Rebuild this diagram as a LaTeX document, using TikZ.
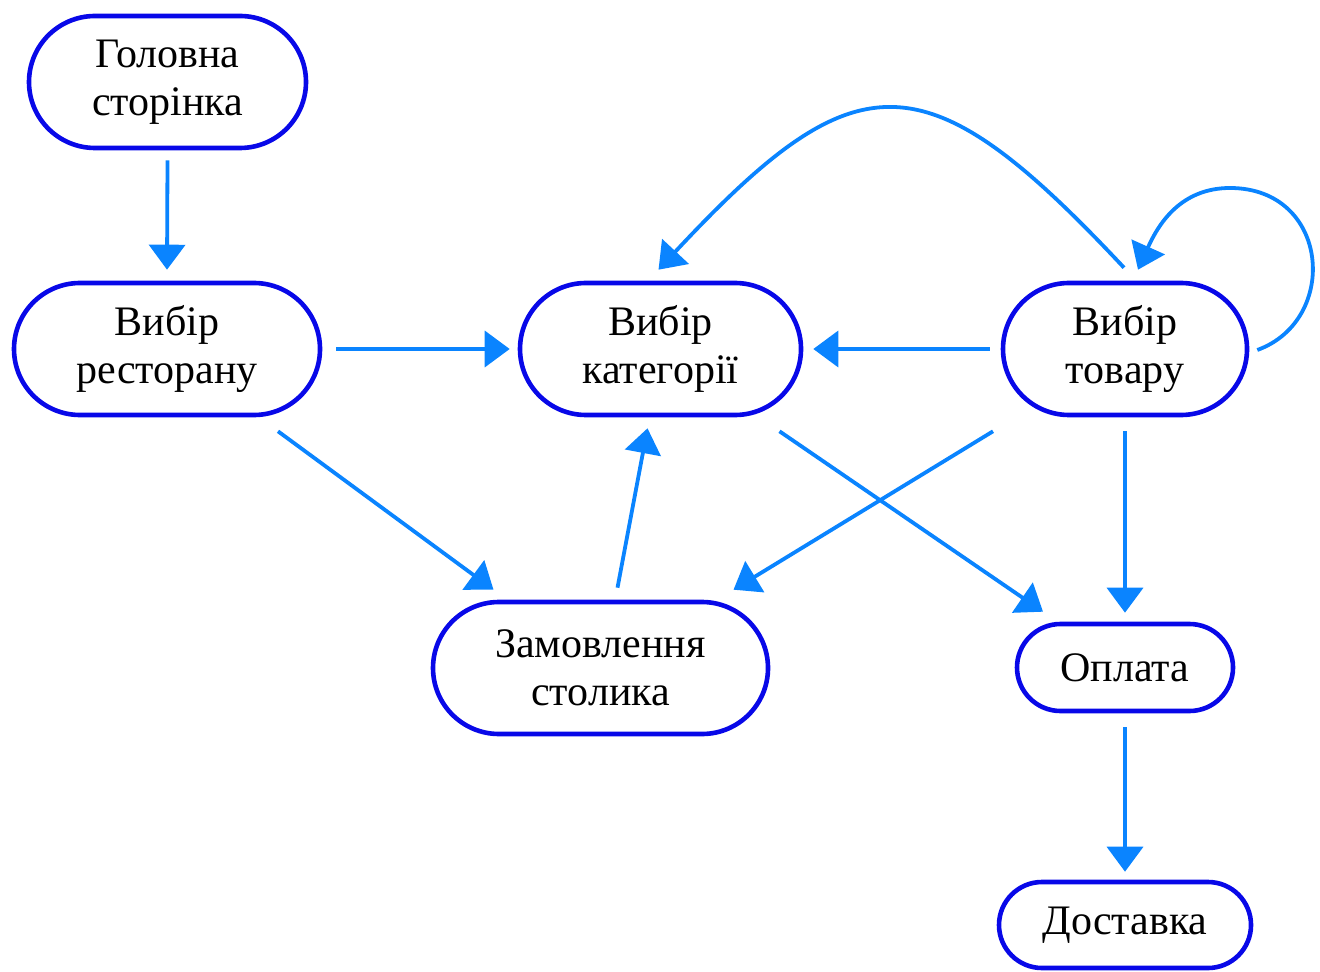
\documentclass[tikz,border=0pt]{standalone}
\usepackage{fontspec}
\setmainfont{Liberation Serif}
\usetikzlibrary{arrows.meta,calc}
\definecolor{nodeblue}{RGB}{8,8,232}
\definecolor{arrowblue}{RGB}{10,132,255}
\tikzset{
  stadium/.style={draw=nodeblue, line width=2.3pt, rounded corners=33pt,
    minimum height=66pt, align=center, inner sep=0pt,
    font=\fontsize{21}{24}\selectfont},
  flow/.style={draw=arrowblue, line width=1.9pt,
    -{Triangle[length=12.5pt,width=18pt]}}
}
\begin{document}
\begin{tikzpicture}[x=0.5pt,y=-0.5pt]
\useasboundingbox (0,0) rectangle (1320,972);
\node[stadium, minimum width=138.5pt] (home) at (167.5,82) {Головна\\сторінка};
\node[stadium, minimum width=153pt] (rest) at (167,349) {Вибір\\ресторану};
\node[stadium, minimum width=140.5pt] (cat) at (660.5,349) {Вибір\\категорії};
\node[stadium, minimum width=122pt] (tov) at (1125,349) {Вибір\\товару};
\node[stadium, minimum width=167.5pt] (zam) at (600.5,668) {Замовлення\\столика};
\node[stadium, minimum width=108pt, minimum height=43.5pt, rounded corners=21.75pt] (opl) at (1125,667.5) {Оплата};
\node[stadium, minimum width=126pt, minimum height=43pt, rounded corners=21.5pt] (dos) at (1125,925) {Доставка};

\draw[flow] ($(home.south)+(0,10)$) -- ($(rest.north)+(0,-11)$);
\draw[flow] ($(rest.east)+(14,0)$) -- ($(cat.west)+(-8,0)$);
\draw[flow] ($(tov.west)+(-11,0)$) -- ($(cat.east)+(10,0)$);
\draw[flow] ($(rest.south)+(111,14)$) -- ($(zam.north)+(-107,-10)$);
\draw[flow] ($(zam.north)+(17,-12)$) -- ($(cat.south)+(-13,11)$);
\draw[flow] ($(tov.south)+(-132,14)$) -- ($(zam.north)+(133,-10)$);
\draw[flow] ($(cat.south)+(119,14)$) -- ($(opl.north)+(-82,-10)$);
\draw[flow] ($(tov.south)+(0,14)$) -- ($(opl.north)+(0,-9)$);
\draw[flow] ($(opl.south)+(0,14)$) -- ($(dos.north)+(0,-8)$);
\draw[flow] ($(tov.north)+(-1,-13)$) .. controls (925,55) and (857,57) .. ($(cat.north)+(-2,-11)$);
\draw[flow] ($(tov.east)+(8,1)$) .. controls (1340,320) and (1330,188) .. (1230,188)
  .. controls (1180,188) and (1158,225) .. ($(tov.north)+(13,-11)$);
\end{tikzpicture}
\end{document}
